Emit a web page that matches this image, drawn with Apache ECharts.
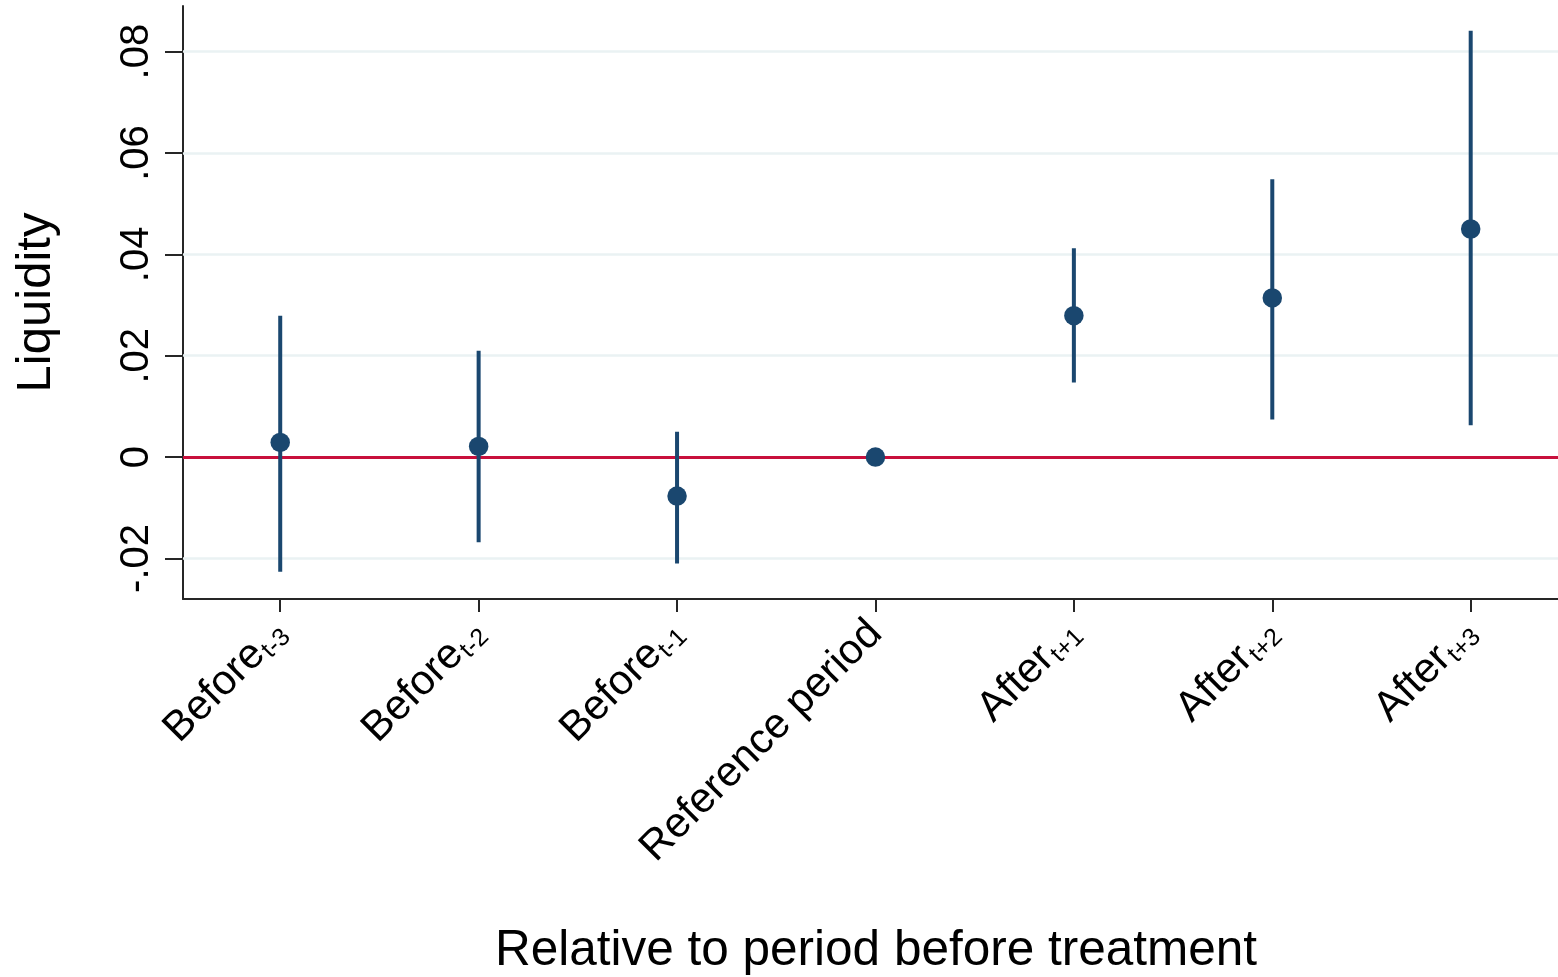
<!DOCTYPE html>
<html><head><meta charset="utf-8">
<script src="https://cdn.jsdelivr.net/npm/echarts@6/dist/echarts.min.js"></script>
<style>html,body{margin:0;padding:0;background:#fff}#c{width:1558px;height:977px}</style>
</head><body><div id="c"></div>
<script>
// ---- data ----
const categories = ['Before', 'Before', 'Before', 'Reference period', 'After', 'After', 'After'];
const subscripts = ['t-3', 't-2', 't-1', '', 't+1', 't+2', 't+3'];
const xPositions = [1, 2, 3, 4, 5, 6, 7];
const coef   = [0.0029, 0.0021, -0.0077, 0.0000, 0.0279, 0.0314, 0.0450];
const ciLow  = [-0.0226, -0.0168, -0.0210, null, 0.0147, 0.0074, 0.0063];
const ciHigh = [0.0279, 0.0210, 0.0050, null, 0.0412, 0.0548, 0.0841];
const yTickValues = [-0.02, 0, 0.02, 0.04, 0.06, 0.08];
const yTickLabels = ['-.02', '0', '.02', '.04', '.06', '.08'];
const xTitle = 'Relative to period before treatment';
const yTitle = 'Liquidity';

// ---- chart ----
const FONT = "'Liberation Sans', Arial, Helvetica, sans-serif";
const NAVY = '#1a476f';
const AXIS = '#262626';

const chart = echarts.init(document.getElementById('c'), null, {renderer: 'canvas'});
const option = {
  animation: false,
  backgroundColor: '#ffffff',
  grid: {left: 183, right: 0, top: 6, bottom: 378, containLabel: false, outerBoundsMode: 'none'},
  xAxis: {
    type: 'value',
    min: 0.51, max: 7.44,
    name: xTitle,
    nameLocation: 'middle',
    nameGap: 327,
    nameTextStyle: {fontSize: 49.5, color: '#000', fontFamily: FONT, padding: [0, 0, 0, 11]},
    axisLine: {show: true, onZero: false, lineStyle: {color: AXIS, width: 2}},
    axisTick: {show: true, length: 13, customValues: xPositions, lineStyle: {color: AXIS, width: 2}},
    axisLabel: {
      rotate: 45, margin: 28, color: '#000', fontFamily: FONT,
      customValues: xPositions,
      formatter: (v) => {
        const i = xPositions.findIndex(p => Math.abs(p - v) < 1e-9);
        if (i < 0) return '';
        const s = subscripts[i];
        return '{main|' + categories[i] + '}' + (s ? '{sub|' + s + '}' : '');
      },
      rich: {
        main: {fontSize: 42, color: '#000', fontFamily: FONT, verticalAlign: 'top'},
        sub: {fontSize: 25, color: '#000', fontFamily: FONT, verticalAlign: 'top', padding: [18, 0, 0, 1]}
      }
    },
    splitLine: {show: false}
  },
  yAxis: {
    type: 'value',
    min: -0.028, max: 0.089,
    name: yTitle,
    nameLocation: 'middle',
    nameGap: 122,
    nameTextStyle: {fontSize: 49, color: '#000', fontFamily: FONT},
    axisLine: {show: true, onZero: false, lineStyle: {color: AXIS, width: 2}},
    axisTick: {show: true, length: 18, customValues: yTickValues, lineStyle: {color: AXIS, width: 2}},
    axisLabel: {
      rotate: 90, margin: 26, fontSize: 40, color: '#000', fontFamily: FONT,
      customValues: yTickValues,
      formatter: (v) => {
        const k = yTickValues.findIndex(t => Math.abs(t - v) < 1e-9);
        return k >= 0 ? yTickLabels[k] : '';
      }
    },
    splitLine: {show: false}
  },
  series: [
    {
      type: 'scatter', data: [], silent: true, z: 1,
      markLine: {
        silent: true, z: 1, symbol: ['none', 'none'], label: {show: false},
        lineStyle: {color: '#eaf2f3', width: 2.5, type: 'solid'},
        emphasis: {disabled: true},
        data: yTickValues.filter(v => v !== 0).map(v => ({yAxis: v}))
      }
    },
    {
      type: 'scatter', data: [], silent: true, z: 2,
      markLine: {
        silent: true, z: 2, symbol: ['none', 'none'], label: {show: false},
        lineStyle: {color: '#c8103c', width: 3, type: 'solid'},
        emphasis: {disabled: true},
        data: [{yAxis: 0}]
      }
    },
    {
      type: 'custom', z: 3, silent: true,
      encode: {x: 0, y: [1, 2]},
      data: xPositions.map((x, i) => [x, ciLow[i], ciHigh[i]]).filter(d => d[1] !== null),
      renderItem: (params, api) => {
        const x = api.value(0);
        const p1 = api.coord([x, api.value(1)]);
        const p2 = api.coord([x, api.value(2)]);
        return {type: 'line', shape: {x1: p1[0], y1: p1[1], x2: p2[0], y2: p2[1]},
                style: {stroke: NAVY, lineWidth: 4, lineCap: 'butt'}};
      }
    },
    {
      type: 'scatter', z: 4, silent: true,
      symbol: 'circle', symbolSize: 19.5,
      itemStyle: {color: NAVY, opacity: 1},
      data: xPositions.map((x, i) => [x, coef[i]])
    }
  ]
};
chart.setOption(option);
</script>
</body></html>
